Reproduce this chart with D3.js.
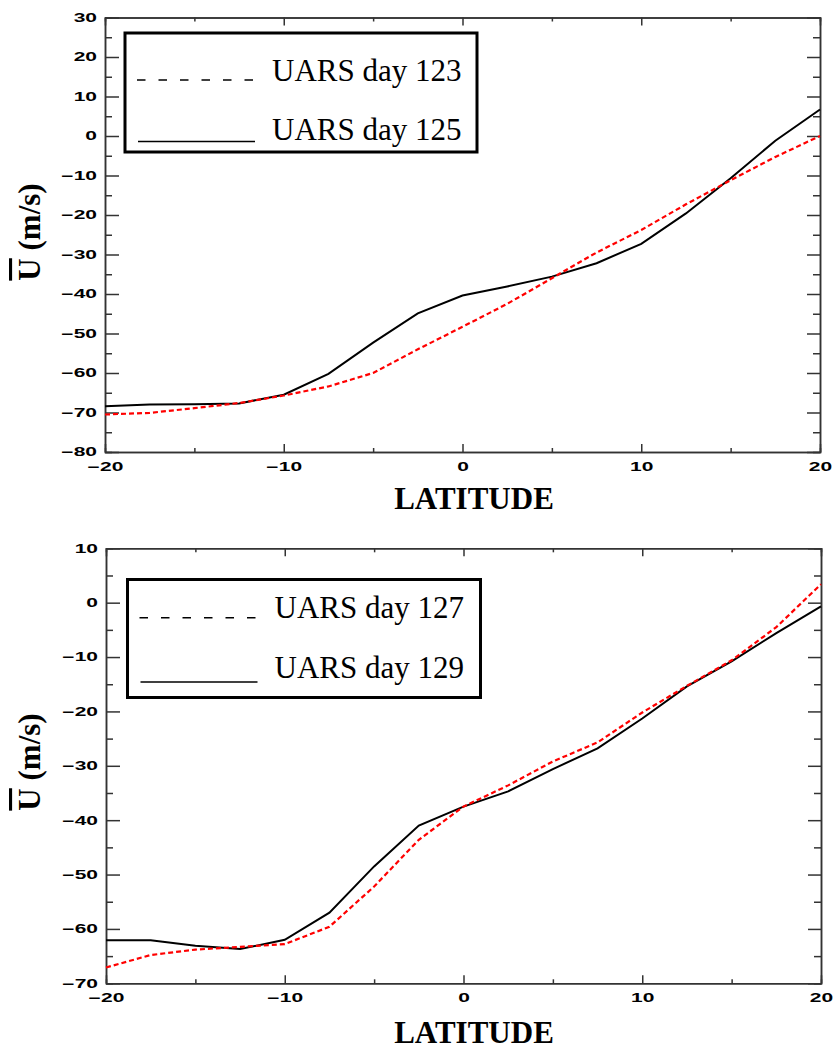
<!DOCTYPE html>
<html>
<head>
<meta charset="utf-8">
<script src="https://cdn.jsdelivr.net/npm/d3@7"></script>
<style>
  body { margin: 0; background: #fff; }
  svg { display: block; }
</style>
</head>
<body>
<div id="chart"></div>
<script>
// latitude grid of the mean zonal wind profiles
const lat = [-20, -17.5, -15, -12.5, -10, -7.5, -5, -2.5, 0, 2.5, 5, 7.5, 10, 12.5, 15, 17.5, 20];

// top panel
const day123 = [-70.5, -70.1, -68.9, -67.6, -65.7, -63.4, -60.0, -54.0, -48.3, -42.5, -36.0, -29.5, -23.8, -17.3, -11.2, -5.3, 0.0];
const day125 = [-68.4, -68.0, -67.9, -67.7, -65.5, -60.2, -52.3, -44.9, -40.4, -38.1, -35.6, -32.2, -27.3, -19.6, -10.7, -1.2, 6.7];

// bottom panel
const day127 = [-67.1, -64.8, -63.8, -63.3, -62.8, -59.6, -52.2, -43.6, -37.5, -33.6, -29.2, -25.7, -20.2, -15.3, -10.6, -4.5, 3.4];
const day129 = [-62.1, -62.1, -63.1, -63.7, -62.0, -57.0, -48.5, -41.0, -37.5, -34.7, -30.6, -26.8, -21.3, -15.4, -10.8, -5.6, -0.7];

const xTicks = [-20, -10, 0, 10, 20];
const xMinor = [-15, -5, 5, 15];
const yTicksTop = [-80, -70, -60, -50, -40, -30, -20, -10, 0, 10, 20, 30];
const yTicksBottom = [-70, -60, -50, -40, -30, -20, -10, 0, 10];

const width = 835;
const height = 1049;
const stretch = 1.75; // tick labels are drawn in a wide bold face

const svg = d3.select("#chart")
  .append("svg")
  .attr("width", width)
  .attr("height", height);

function drawPanel(p) {
  const x = d3.scaleLinear().domain([-20, 20]).range([p.left, p.right]);
  const y = d3.scaleLinear().domain(p.yDomain).range([p.bottom, p.top]);

  const g = svg.append("g");

  const yMinor = d3.range(p.yDomain[0] + 5, p.yDomain[1], 10);

  // minor ticks first, majors on top
  g.append("g")
    .attr("transform", `translate(${p.left},0)`)
    .call(d3.axisLeft(y).tickValues(yMinor).tickSize(-7).tickFormat(""));
  g.append("g")
    .attr("transform", `translate(${p.right},0)`)
    .call(d3.axisRight(y).tickValues(yMinor).tickSize(-7).tickFormat(""));
  g.append("g")
    .attr("transform", `translate(0,${p.bottom})`)
    .call(d3.axisBottom(x).tickValues(xMinor).tickSize(-4).tickFormat(""));
  g.append("g")
    .attr("transform", `translate(0,${p.top})`)
    .call(d3.axisTop(x).tickValues(xMinor).tickSize(-4).tickFormat(""));

  const yAxis = g.append("g")
    .attr("transform", `translate(${p.left},0)`)
    .call(d3.axisLeft(y).tickValues(p.yTicks).tickSize(-14).tickSizeOuter(0).tickPadding(8));
  g.append("g")
    .attr("transform", `translate(${p.right},0)`)
    .call(d3.axisRight(y).tickValues(p.yTicks).tickSize(-13).tickSizeOuter(0).tickFormat(""));
  const xAxis = g.append("g")
    .attr("transform", `translate(0,${p.bottom})`)
    .call(d3.axisBottom(x).tickValues(xTicks).tickSize(-8).tickSizeOuter(0).tickPadding(10));
  g.append("g")
    .attr("transform", `translate(0,${p.top})`)
    .call(d3.axisTop(x).tickValues(xTicks).tickSize(-8).tickSizeOuter(0).tickFormat(""));

  g.selectAll(".domain, .tick line")
    .attr("stroke", "#333")
    .attr("stroke-width", 1.5);

  [yAxis, xAxis].forEach(a => {
    a.selectAll("text")
      .attr("font-family", "Liberation Sans, Arial, sans-serif")
      .attr("font-weight", "bold")
      .attr("font-size", 12)
      .attr("fill", "#000")
      .attr("x", function() { return +d3.select(this).attr("x") / stretch; })
      .attr("transform", `scale(${stretch},1)`);
  });

  const line = d3.line()
    .x((d, i) => x(lat[i]))
    .y(d => y(d));

  g.append("path")
    .datum(p.solid)
    .attr("fill", "none")
    .attr("stroke", "#000")
    .attr("stroke-width", 2)
    .attr("d", line);

  g.append("path")
    .datum(p.dashed)
    .attr("fill", "none")
    .attr("stroke", "#ff0000")
    .attr("stroke-width", 2.2)
    .attr("stroke-dasharray", "5,3")
    .attr("d", line);

  // legend
  const L = p.legend;
  g.append("rect")
    .attr("x", L.x).attr("y", L.y)
    .attr("width", L.w).attr("height", L.h)
    .attr("fill", "#fff")
    .attr("stroke", "#000")
    .attr("stroke-width", 3);

  g.append("line")
    .attr("x1", L.x + 12).attr("x2", L.x + 128)
    .attr("y1", L.row1).attr("y2", L.row1)
    .attr("stroke", "#000").attr("stroke-width", 1.5)
    .attr("stroke-dasharray", "8.5,13");
  g.append("line")
    .attr("x1", L.x + 13).attr("x2", L.x + 130)
    .attr("y1", L.row2).attr("y2", L.row2)
    .attr("stroke", "#000").attr("stroke-width", 1.5);

  g.append("text")
    .attr("x", L.x + 147).attr("y", L.text1)
    .attr("font-family", "Liberation Serif, Times New Roman, serif")
    .attr("font-size", 31)
    .text(p.labels[0]);
  g.append("text")
    .attr("x", L.x + 147).attr("y", L.text2)
    .attr("font-family", "Liberation Serif, Times New Roman, serif")
    .attr("font-size", 31)
    .text(p.labels[1]);

  // axis titles
  g.append("text")
    .attr("x", 474).attr("y", p.xTitleY)
    .attr("text-anchor", "middle")
    .attr("font-family", "Liberation Serif, Times New Roman, serif")
    .attr("font-weight", "bold")
    .attr("font-size", 31)
    .text("LATITUDE");

  const yt = g.append("text")
    .attr("transform", `translate(40,${p.yTitleCenter}) rotate(-90)`)
    .attr("text-anchor", "middle")
    .attr("font-family", "Liberation Serif, Times New Roman, serif")
    .attr("font-weight", "bold")
    .attr("font-size", 31);
  yt.append("tspan")
    .style("text-decoration", "overline")
    .text("U");
  yt.append("tspan").text(" (m/s)");
}

drawPanel({
  left: 105, right: 820, top: 17.5, bottom: 452,
  yDomain: [-80, 30], yTicks: yTicksTop,
  dashed: day123, solid: day125,
  labels: ["UARS day 123", "UARS day 125"],
  legend: {x: 125, y: 33, w: 352, h: 119, row1: 80, row2: 141.5, text1: 81, text2: 140},
  xTitleY: 509, yTitleCenter: 232
});

drawPanel({
  left: 106, right: 821, top: 548.3, bottom: 983.3,
  yDomain: [-70, 10], yTicks: yTicksBottom,
  dashed: day127, solid: day129,
  labels: ["UARS day 127", "UARS day 129"],
  legend: {x: 127.5, y: 579.5, w: 353, h: 118, row1: 617.7, row2: 682, text1: 618, text2: 678},
  xTitleY: 1043, yTitleCenter: 762
});
</script>
</body>
</html>
